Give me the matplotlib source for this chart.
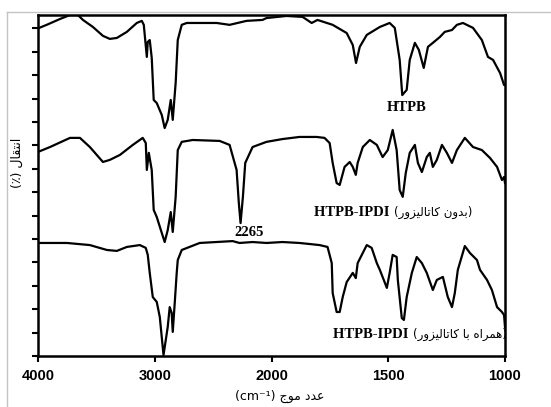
import numpy as np
import matplotlib
matplotlib.use('Agg')
import matplotlib.pyplot as plt
from matplotlib.lines import Line2D

# FTIR spectra: wavenumber (cm-1) and stacked transmittance (arbitrary units)
htpb_wn = [4000, 3926, 3812, 3726, 3658, 3615, 3530, 3444, 3385, 3325, 3239, 3154,
           3111, 3094, 3068, 3060, 3043, 3026, 3009, 2983, 2940, 2915, 2889, 2863,
           2846, 2821, 2803, 2769, 2726, 2470, 2359, 2214, 2077, 2043, 1936, 1867,
           1828, 1803, 1738, 1678, 1652, 1638, 1622, 1592, 1536, 1494, 1472, 1451,
           1440, 1421, 1408, 1386, 1369, 1348, 1330, 1309, 1279, 1258, 1227, 1206,
           1180, 1137, 1099, 1073, 1051, 1021, 1004, 1000]
htpb_t = [140.0, 141.5, 144.0, 145.7, 145.7, 143.6, 140.6, 136.8, 135.5, 135.9, 138.5, 142.3,
          143.2, 141.5, 127.8, 134.2, 135.0, 127.4, 109.4, 108.1, 103.0, 97.4, 100.9, 109.4,
          100.9, 116.7, 135.0, 141.5, 142.3, 142.3, 141.5, 143.2, 143.6, 144.4, 145.3, 144.9,
          142.3, 143.6, 141.5, 138.0, 132.9, 125.2, 132.1, 137.2, 140.6, 142.3, 140.2, 126.5,
          111.5, 113.7, 126.5, 133.8, 130.8, 123.1, 132.1, 133.8, 136.3, 138.5, 139.3, 141.5,
          142.3, 140.2, 135.0, 127.8, 126.5, 120.9, 115.8, 115.8]

ipdi_wn = [4000, 3897, 3726, 3641, 3556, 3444, 3385, 3299, 3188, 3103, 3077, 3068,
           3051, 3026, 3009, 2983, 2940, 2915, 2889, 2863, 2846, 2821, 2803, 2769,
           2675, 2444, 2359, 2299, 2280, 2265, 2245, 2225, 2162, 2043, 1953, 1880,
           1807, 1773, 1751, 1738, 1721, 1708, 1687, 1665, 1652, 1639, 1631, 1609,
           1579, 1549, 1524, 1502, 1481, 1464, 1451, 1438, 1425, 1408, 1386, 1373,
           1356, 1335, 1322, 1309, 1292, 1270, 1249, 1227, 1206, 1172, 1137, 1099,
           1064, 1034, 1013, 1004, 1000]
ipdi_t = [87.2, 89.3, 93.2, 93.2, 89.3, 82.9, 83.8, 85.9, 90.2, 93.2, 91.0, 79.5,
          86.8, 79.5, 62.4, 59.4, 52.6, 48.7, 53.8, 61.5, 53.0, 68.0, 88.0, 91.5,
          92.3, 91.9, 90.2, 79.5, 65.4, 56.8, 68.0, 82.5, 89.3, 91.5, 92.7, 93.6,
          93.6, 93.2, 91.0, 82.5, 73.9, 73.1, 80.8, 82.9, 80.8, 77.4, 82.5, 89.3,
          92.3, 90.2, 85.0, 88.0, 96.6, 88.0, 70.9, 68.0, 78.2, 86.8, 90.2, 82.5,
          78.6, 85.0, 86.8, 80.8, 83.8, 90.2, 86.8, 82.5, 88.0, 93.2, 89.3, 88.0,
          84.6, 80.8, 75.2, 76.5, 73.9]

cat_wn = [4000, 3752, 3556, 3410, 3325, 3239, 3128, 3077, 3060, 3043, 3017, 2983,
          2957, 2925, 2889, 2872, 2855, 2846, 2829, 2812, 2803, 2769, 2615, 2333,
          2274, 2162, 2043, 1953, 1880, 1794, 1760, 1742, 1738, 1721, 1708, 1695,
          1678, 1652, 1639, 1631, 1592, 1571, 1549, 1536, 1506, 1494, 1481, 1464,
          1459, 1442, 1433, 1421, 1399, 1378, 1356, 1335, 1309, 1292, 1266, 1245,
          1227, 1215, 1202, 1172, 1150, 1120, 1107, 1077, 1056, 1034, 1013, 1004,
          1000]
cat_t = [48.3, 48.3, 47.4, 45.3, 44.9, 46.6, 47.4, 46.2, 43.2, 35.5, 25.2, 23.1,
         16.7, 0.4, 12.4, 20.9, 18.4, 10.3, 22.6, 35.5, 41.0, 45.3, 48.3, 49.1,
         48.3, 48.7, 48.3, 48.7, 48.3, 47.4, 46.6, 39.7, 26.9, 18.8, 18.8, 25.2,
         31.6, 35.5, 33.3, 39.7, 47.4, 46.2, 39.7, 36.8, 29.1, 35.5, 43.2, 42.3,
         32.5, 16.2, 15.4, 25.2, 35.5, 42.3, 39.7, 35.5, 28.2, 32.5, 33.8, 25.2,
         20.9, 26.9, 36.8, 47.0, 44.0, 41.0, 36.8, 32.5, 28.2, 20.9, 18.8, 17.5,
         12.4]

x_ticks = [4000, 3000, 2000, 1500, 1000]

# contextual forms (isolated, final, initial, medial) for the letters used
FORMS = {
    '\u0627': ('\uFE8D', '\uFE8E', None, None),          # alef
    '\u062F': ('\uFEA9', '\uFEAA', None, None),          # dal
    '\u0631': ('\uFEAD', '\uFEAE', None, None),          # reh
    '\u0632': ('\uFEAF', '\uFEB0', None, None),          # zain
    '\u0648': ('\uFEED', '\uFEEE', None, None),          # waw
    '\u0628': ('\uFE8F', '\uFE90', '\uFE91', '\uFE92'),  # beh
    '\u062A': ('\uFE95', '\uFE96', '\uFE97', '\uFE98'),  # teh
    '\u062C': ('\uFE9D', '\uFE9E', '\uFE9F', '\uFEA0'),  # jeem
    '\u0639': ('\uFEC9', '\uFECA', '\uFECB', '\uFECC'),  # ain
    '\u0642': ('\uFED5', '\uFED6', '\uFED7', '\uFED8'),  # qaf
    '\u0644': ('\uFEDD', '\uFEDE', '\uFEDF', '\uFEE0'),  # lam
    '\u0645': ('\uFEE1', '\uFEE2', '\uFEE3', '\uFEE4'),  # meem
    '\u0646': ('\uFEE5', '\uFEE6', '\uFEE7', '\uFEE8'),  # noon
    '\u0647': ('\uFEE9', '\uFEEA', '\uFEEB', '\uFEEC'),  # heh
    '\u06A9': ('\uFB8E', '\uFB8F', '\uFB90', '\uFB91'),  # keheh
    '\u06CC': ('\uFBFC', '\uFBFD', '\uFBFE', '\uFBFF'),  # farsi yeh
}


def rtl(text):
    """Join the letters and put them in display order."""
    out = []
    for i, ch in enumerate(text):
        if ch not in FORMS:
            out.append(ch)
            continue
        prev = text[i - 1] if i > 0 else None
        nxt = text[i + 1] if i + 1 < len(text) else None
        join_prev = prev in FORMS and FORMS[prev][2] is not None
        join_next = nxt in FORMS and FORMS[ch][2] is not None
        iso, fin, ini, med = FORMS[ch]
        if join_prev and join_next:
            out.append(med)
        elif join_prev:
            out.append(fin)
        elif join_next:
            out.append(ini)
        else:
            out.append(iso)
    return ''.join(reversed(out))


# two-slope wavenumber axis: 1000 cm-1 per step above 2000, 500 below
def forward(w):
    w = np.asarray(w, dtype=float)
    return np.where(w >= 2000, 2 + (w - 2000) / 1000, (w - 1000) / 500)


def inverse(u):
    u = np.asarray(u, dtype=float)
    return np.where(u >= 2, 2000 + 1000 * (u - 2), 1000 + 500 * u)


fig = plt.figure(figsize=(5.51, 4.07), dpi=100)
ax = fig.add_axes([0.069, 0.1253, 0.8475, 0.8378])
ax.set_xscale('function', functions=(forward, inverse))

for wn, t in [(htpb_wn, htpb_t), (ipdi_wn, ipdi_t), (cat_wn, cat_t)]:
    ax.plot(wn, t, color='black', lw=1.6, solid_joinstyle='round')

ax.set_xlim(4000, 1000)
ax.set_ylim(0, 145.7)
ax.set_xticks(x_ticks)
ax.set_xticklabels([str(v) for v in x_ticks], fontsize=10.5, fontweight='bold',
                   family='Liberation Sans')
ax.set_yticks(np.arange(0, 141, 10))
ax.set_yticklabels([])
ax.tick_params(direction='out', length=4, width=1.5, colors='black', pad=5)
for s in ax.spines.values():
    s.set_linewidth(1.8)

serif = ['Liberation Serif', 'DejaVu Sans']
ax.text(1421, 106, 'HTPB', fontsize=10.5, fontweight='bold', family=serif,
        ha='center', va='center')
ax.text(2190, 52.6, '2265', fontsize=10.5, fontweight='bold', family=serif,
        ha='center', va='center')

ax.text(1478, 61.5, 'HTPB-IPDI ', fontsize=10.5, fontweight='bold', family=serif,
        ha='right', va='center')
ax.text(1474, 61.5, '(' + rtl('بدون کاتالیزور') + ')', fontsize=8.5,
        family=['DejaVu Sans'], ha='left', va='center')

ax.text(1398, 9.4, 'HTPB-IPDI ', fontsize=10.5, fontweight='bold', family=serif,
        ha='right', va='center')
ax.text(1394, 9.4, '(' + rtl('همراه با کاتالیزور') + ')', fontsize=8.5,
        family=['DejaVu Sans'], ha='left', va='center')

fig.text(0.508, 0.025, '(cm\u207B\u00B9) ' + rtl('عدد موج'), fontsize=9,
         family=['DejaVu Sans'], ha='center', va='center')
fig.text(0.031, 0.6, '(\u066A) ' + rtl('انتقال'), fontsize=9, rotation=90,
         family=['DejaVu Sans'], ha='center', va='center')

# thin grey border round the figure area
fig.add_artist(Line2D([7 / 551, 7 / 551], [0, 1 - 12 / 407], transform=fig.transFigure,
                      color='#c4c4c4', lw=1))
fig.add_artist(Line2D([7 / 551, 1], [1 - 12 / 407, 1 - 12 / 407], transform=fig.transFigure,
                      color='#c4c4c4', lw=1))

fig.savefig('out.png', dpi=100)
